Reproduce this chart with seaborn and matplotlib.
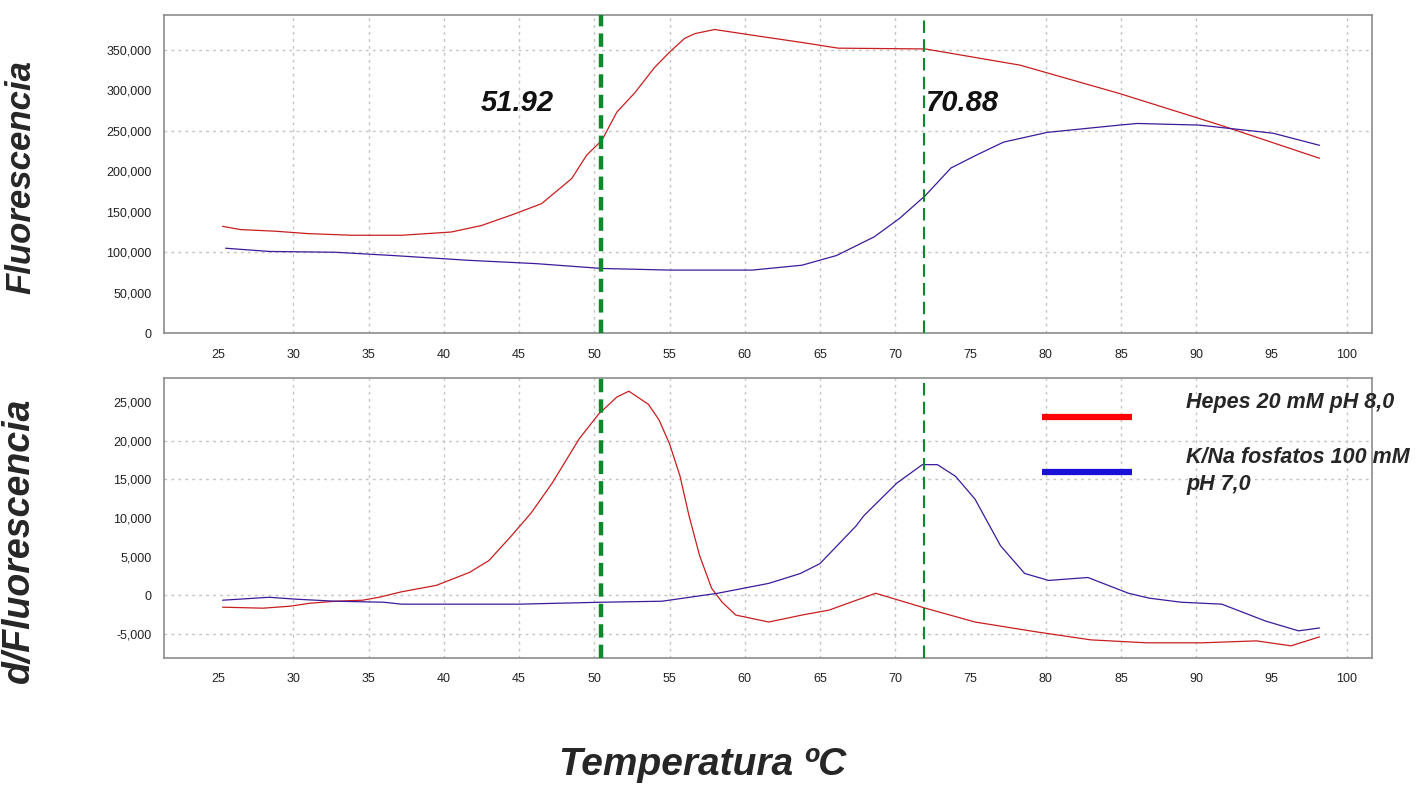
import matplotlib
matplotlib.use("Agg")
import matplotlib.pyplot as plt
from matplotlib.ticker import FuncFormatter
from matplotlib.lines import Line2D
import seaborn as sns
import pandas as pd

# ---------------- data ----------------
temp_fl_hepes = [25.3, 26.5, 28.8, 31.0, 33.9, 37.2, 40.5, 42.5, 44.5, 46.5, 48.5, 49.5,
                 50.5, 51.5, 52.7, 54.0, 55.0, 56.0, 56.7, 58.0, 60.5, 63.8, 66.2, 72.0,
                 78.3, 84.9, 91.6, 98.2]
fl_hepes = [132000, 128000, 126000, 123000, 121000, 121000, 125000, 133000, 146000, 160000,
            191000, 220000, 238000, 273000, 297000, 328000, 347000, 364000, 370000, 375000,
            368000, 359000, 352000, 351000, 331000, 296000, 257000, 216000]

temp_fl_fosf = [25.5, 28.4, 32.8, 36.6, 41.7, 46.1, 50.5, 55.0, 60.5, 63.8, 66.1, 68.6,
                70.3, 72.0, 73.7, 75.4, 77.2, 80.1, 84.9, 86.1, 90.2, 95.1, 98.2]
fl_fosf = [105000, 101000, 100000, 96000, 90000, 86000, 80000, 78000, 78000, 84000, 96000,
           119000, 142000, 170000, 204000, 220000, 236000, 248000, 257000, 259000, 257000,
           247000, 232000]

temp_d_hepes = [25.3, 28.0, 29.8, 31.1, 32.8, 34.6, 35.7, 37.2, 39.5, 41.7, 43.0, 44.5,
                45.8, 47.2, 49.0, 50.3, 51.5, 52.3, 53.6, 54.3, 55.0, 55.7, 56.3, 57.0,
                57.8, 58.5, 59.4, 61.6, 63.8, 65.6, 68.7, 72.0, 75.3, 79.4, 83.0, 86.7,
                90.4, 94.0, 96.3, 98.2]
d_hepes = [-1540, -1670, -1410, -1030, -770, -640, -260, 450, 1280, 2950, 4490, 7700,
           10640, 14500, 20250, 23460, 25640, 26400, 24700, 22700, 19600, 15400, 10260, 5130,
           900, -900, -2560, -3460, -2560, -1920, 260, -1670, -3460, -4740, -5770, -6150,
           -6150, -5900, -6540, -5380]

temp_d_fosf = [25.3, 28.4, 30.2, 32.8, 36.0, 37.2, 45.0, 50.5, 54.5, 58.2, 61.6, 63.7,
               65.0, 67.4, 67.9, 70.1, 71.8, 72.8, 74.0, 75.3, 77.0, 78.6, 80.2, 82.8,
               85.5, 86.9, 89.0, 91.7, 94.6, 96.8, 98.2]
d_fosf = [-640, -260, -510, -770, -900, -1150, -1150, -900, -770, 260, 1540, 2820, 4100,
          8970, 10260, 14500, 16900, 16900, 15400, 12440, 6400, 2820, 1920, 2300, 260, -380,
          -900, -1150, -3330, -4600, -4230]

series_names = ["Hepes 20 mM pH 8,0", "K/Na fosfatos 100 mM\npH 7,0"]
tm_positions = [50.45, 71.9]
tm_labels = ["51.92", "70.88"]
x_ticks = list(range(25, 101, 5))
top_y_ticks = list(range(0, 350001, 50000))
bot_y_ticks = list(range(-5000, 25001, 5000))
grid_x = [30, 35, 40, 45, 50, 55, 60, 65, 70, 80, 85, 90, 100]
grid_y_top = [100000, 250000, 350000]
grid_y_bot = [-5000, 0, 15000, 20000]

# ---------------- style ----------------
sns.set_style("white")
plt.rcParams["font.family"] = ["Liberation Sans", "DejaVu Sans"]
plt.rcParams["axes.grid"] = False

RED = "#c81e1e"
BLUE = "#3c1a9c"
GREEN = "#0b8a2c"
GRID = "#c4c4c4"

fig = plt.figure(figsize=(14.25, 7.86), dpi=100)
ax1 = fig.add_axes([0.115, 0.576, 0.848, 0.405])
ax2 = fig.add_axes([0.115, 0.163, 0.848, 0.356])

df_top_h = pd.DataFrame({"T": temp_fl_hepes, "F": fl_hepes})
df_top_f = pd.DataFrame({"T": temp_fl_fosf, "F": fl_fosf})
df_bot_h = pd.DataFrame({"T": temp_d_hepes, "D": d_hepes})
df_bot_f = pd.DataFrame({"T": temp_d_fosf, "D": d_fosf})

sns.lineplot(data=df_top_h, x="T", y="F", ax=ax1, color=RED, lw=0.9, estimator=None)
sns.lineplot(data=df_top_f, x="T", y="F", ax=ax1, color=BLUE, lw=0.9, estimator=None)
sns.lineplot(data=df_bot_h, x="T", y="D", ax=ax2, color=RED, lw=0.9, estimator=None)
sns.lineplot(data=df_bot_f, x="T", y="D", ax=ax2, color=BLUE, lw=0.9, estimator=None)

fmt = FuncFormatter(lambda v, p: f"{int(v):,}")
for ax, yt, gy, ylim in [(ax1, top_y_ticks, grid_y_top, (0, 393000)),
                         (ax2, bot_y_ticks, grid_y_bot, (-8100, 28100))]:
    ax.set_xlim(21.4, 101.7)
    ax.set_ylim(*ylim)
    ax.set_xticks(x_ticks)
    ax.set_yticks(yt)
    ax.yaxis.set_major_formatter(fmt)
    ax.tick_params(axis="both", labelsize=9, labelcolor="#222222", length=3,
                   width=0.8, color="#999999")
    ax.tick_params(axis="x", pad=8)
    ax.tick_params(axis="y", pad=6)
    for gx in grid_x:
        ax.axvline(gx, color=GRID, lw=1, ls=(0, (2, 3)), zorder=0)
    for g in gy:
        ax.axhline(g, color=GRID, lw=1, ls=(0, (2, 3)), zorder=0)
    for s in ax.spines.values():
        s.set_color("#8c8c8c")
        s.set_linewidth(1.2)
    ax.set_xlabel("")
    # melting temperature markers
    ax.axvline(tm_positions[0], color=GREEN, lw=3.2, ls=(0, (3, 1.6)), zorder=3)
    ax.axvline(tm_positions[1], color=GREEN, lw=1.5, ls=(0, (6, 3)), zorder=3)

ax1.set_ylabel("Fluorescencia", fontsize=25, fontweight="bold", style="italic")
ax2.set_ylabel("d/Fluorescencia", fontsize=27, fontweight="bold", style="italic")
ax1.yaxis.set_label_coords(-0.105, 0.49)
ax2.yaxis.set_label_coords(-0.105, 0.42)

ax1.text(44.9, 284000, tm_labels[0], fontsize=21, fontweight="bold", style="italic",
         ha="center", va="center", color="#111111")
ax1.text(74.5, 284000, tm_labels[1], fontsize=21, fontweight="bold", style="italic",
         ha="center", va="center", color="#111111")

fig.text(0.493, 0.027, "Temperatura ºC", fontsize=28, fontweight="bold", style="italic",
         ha="center", va="center")

handles = [Line2D([], [], color="#ff0000", lw=4.5, solid_capstyle="butt"),
           Line2D([], [], color="#1a10d8", lw=4.5, solid_capstyle="butt")]
labels = [series_names[0] + "\n", series_names[1]]
leg = ax2.legend(handles, labels, loc="upper left",
                 bbox_to_anchor=(1042 / 1425, 1 - 392 / 786),
                 bbox_transform=fig.transFigure, frameon=False,
                 borderpad=0, borderaxespad=0, handlelength=4.2,
                 handletextpad=2.5, labelspacing=0.3,
                 prop={"size": 15.5, "weight": "bold", "style": "italic"})
for t in leg.get_texts():
    t.set_linespacing(1.4)

# only the explicit dotted reference lines act as grid
for ax in (ax1, ax2):
    ax.grid(False)

fig.savefig("out.png", dpi=100)
